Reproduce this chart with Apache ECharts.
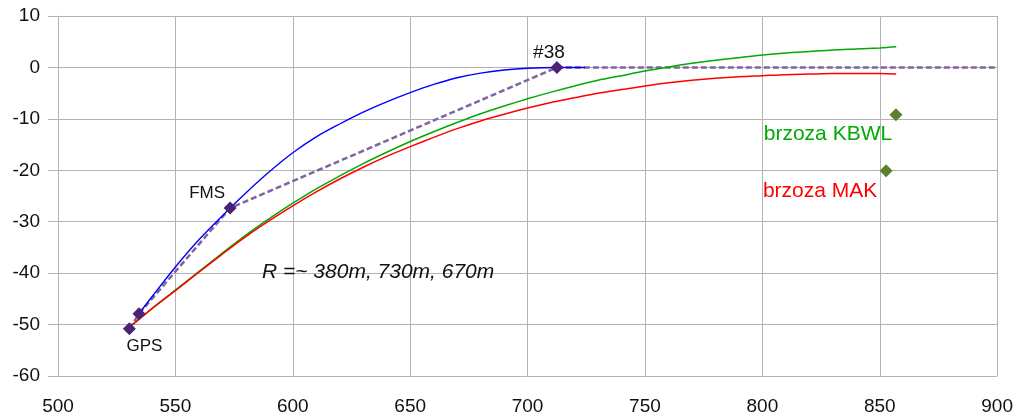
<!DOCTYPE html>
<html>
<head>
<meta charset="utf-8">
<script src="https://cdn.jsdelivr.net/npm/echarts@6/dist/echarts.min.js"></script>
<style>
  html, body { margin: 0; padding: 0; background: #fff; }
  #chart { width: 1016px; height: 419px; }
</style>
</head>
<body>
<div id="chart"></div>
<script>
// Approach path: surveyed points (along-track, lateral) in metres
const routePoints = [[530.4, -50.8], [534.5, -47.9], [573.3, -27.35], [712.5, 0]];
const routeNames = ['GPS', '', 'FMS', '#38'];
const routeTail = [[900, 0]];

// Turn arcs: R ~ 380 m (blue), 730 m (green), 670 m (red)
const arc380 = [[534.5, -47.9], [540, -44.6], [550, -38.8], [560, -33.5], [573.3, -27.35],
  [580, -24.4], [590, -20.3], [600, -16.6], [610, -13.5], [620, -11.0], [630, -8.7],
  [640, -6.7], [650, -4.9], [660, -3.3], [670, -2.0], [680, -1.1], [690, -0.5],
  [700, -0.15], [712.5, 0], [724.5, 0]];
const arc730 = [[530.2, -50.6], [540, -46.9], [550, -43.3], [560, -39.7], [570, -36.1],
  [580, -32.6], [590, -29.4], [600, -26.4], [610, -23.6], [620, -21.1], [630, -18.7],
  [640, -16.5], [650, -14.4], [660, -12.5], [670, -10.7], [680, -9.0], [690, -7.5],
  [700, -6.1], [710, -4.8], [720, -3.6], [730, -2.5], [740, -1.6], [750, -0.7],
  [760, 0.1], [770, 0.8], [780, 1.4], [790, 1.9], [800, 2.4], [810, 2.8], [820, 3.1],
  [830, 3.4], [840, 3.6], [850, 3.8], [857, 4.0]];
const arc670 = [[530.2, -50.6], [540, -46.9], [550, -43.4], [560, -39.8], [570, -36.3],
  [580, -32.9], [590, -29.8], [600, -26.9], [610, -24.2], [620, -21.7], [630, -19.4],
  [640, -17.3], [650, -15.4], [660, -13.6], [670, -11.9], [680, -10.4], [690, -9.1],
  [700, -7.9], [710, -6.8], [720, -5.9], [730, -5.0], [740, -4.3], [750, -3.6],
  [760, -3.0], [770, -2.5], [780, -2.1], [790, -1.8], [800, -1.6], [810, -1.4],
  [820, -1.3], [830, -1.2], [840, -1.2], [850, -1.2], [857, -1.3]];

// Birch tree positions
const birchPoints = [[856.9, -9.2], [852.7, -20.1]];
const birchNames = ['brzoza KBWL', 'brzoza MAK'];

const radiusNote = 'R =~ 380m, 730m, 670m';

const FONT = '"Liberation Sans", Arial, sans-serif';
const GRID_COLOR = '#b3b3b3';

// label placement for the named points
const routeLabelStyle = {
  'GPS':  { offset: [15, 18], fontSize: 17 },
  'FMS':  { offset: [-23, -15], fontSize: 17 },
  '#38':  { offset: [-8, -15], fontSize: 19 }
};
const birchLabelStyle = {
  'brzoza KBWL': { offset: [-68, 19], color: '#00aa00' },
  'brzoza MAK':  { offset: [-66, 20], color: '#ff0000' }
};

const routeMarkers = routePoints.map((p, i) => {
  const name = routeNames[i];
  const st = routeLabelStyle[name];
  return {
    name: name,
    value: p,
    label: st ? {
      show: true, formatter: name, position: 'inside', offset: st.offset,
      fontSize: st.fontSize, color: '#111', fontFamily: FONT
    } : { show: false }
  };
});

const birchMarkers = birchPoints.map((p, i) => {
  const name = birchNames[i];
  const st = birchLabelStyle[name];
  return {
    name: name,
    value: p,
    label: {
      show: true, formatter: name, position: 'inside', offset: st.offset,
      fontSize: 21, color: st.color, fontFamily: FONT
    }
  };
});

const chart = echarts.init(document.getElementById('chart'), null, { renderer: 'canvas' });

const axisCommon = {
  type: 'value',
  axisLine: { show: true, lineStyle: { color: GRID_COLOR, width: 1 } },
  axisTick: { show: true, length: 10, inside: false, lineStyle: { color: GRID_COLOR, width: 1 } },
  splitLine: { show: true, lineStyle: { color: GRID_COLOR, width: 1 } },
  axisLabel: { color: '#111', fontSize: 19, fontFamily: FONT }
};

const arcLine = (name, data, color, width, z) => ({
  name: name,
  type: 'line',
  data: data,
  smooth: 0.3,
  showSymbol: false,
  lineStyle: { color: color, width: width },
  z: z
});

chart.setOption({
  animation: false,
  backgroundColor: '#ffffff',
  grid: { left: 58, right: 18, top: 16, bottom: 43, containLabel: false },
  xAxis: Object.assign({}, axisCommon, {
    min: 500, max: 900, interval: 50,
    axisLabel: Object.assign({}, axisCommon.axisLabel, { margin: 21 })
  }),
  yAxis: Object.assign({}, axisCommon, {
    min: -60, max: 10, interval: 10,
    axisLabel: Object.assign({}, axisCommon.axisLabel, { margin: 18 })
  }),
  series: [
    {
      name: 'route',
      type: 'line',
      data: routePoints.concat(routeTail),
      showSymbol: false,
      lineStyle: { color: '#8064a2', width: 2.5, type: [6, 3] },
      z: 1
    },
    arcLine('R730', arc730, '#00aa00', 1.5, 2),
    arcLine('R670', arc670, '#ff0000', 1.5, 2),
    arcLine('R380', arc380, '#0000ff', 1.4, 3),
    {
      name: 'points',
      type: 'scatter',
      data: routeMarkers,
      symbol: 'diamond',
      symbolSize: 13,
      itemStyle: { color: '#4b2275', opacity: 1 },
      z: 5
    },
    {
      name: 'birches',
      type: 'scatter',
      data: birchMarkers,
      symbol: 'diamond',
      symbolSize: 13,
      itemStyle: { color: '#5e7f2b', opacity: 1 },
      z: 5
    }
  ],
  graphic: [
    {
      type: 'text',
      left: 262,
      top: 262,
      style: {
        text: radiusNote,
        font: 'italic 21px ' + FONT,
        fill: '#111'
      },
      z: 10
    }
  ]
});
</script>
</body>
</html>
